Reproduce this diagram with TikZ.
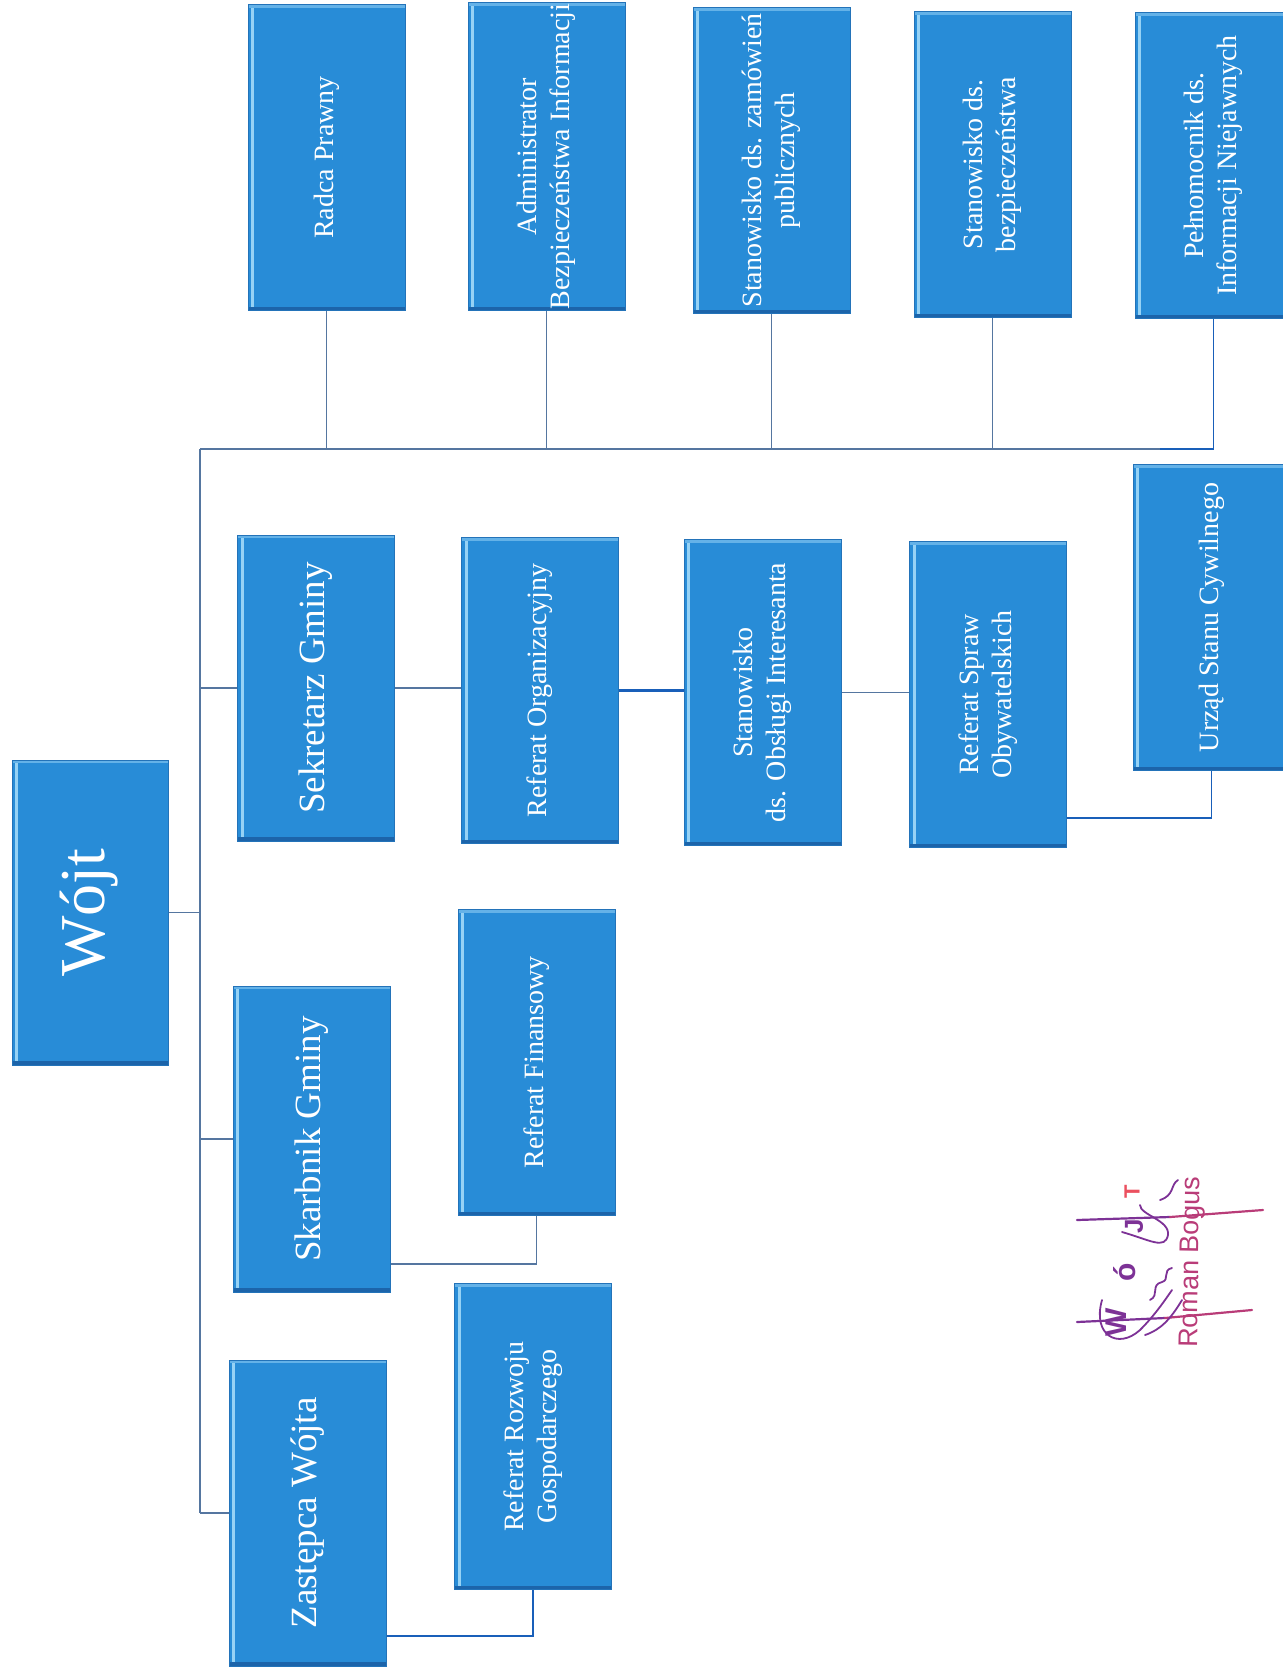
\documentclass[tikz,border=0pt]{standalone}
\usepackage{fontspec}
\usepackage{graphicx}
\setmainfont{Liberation Serif}
\newfontfamily\sigfont{Liberation Sans}
\definecolor{boxblue}{RGB}{40,140,215}
\definecolor{boxlight}{RGB}{150,210,245}
\definecolor{boxdark}{RGB}{28,100,170}
\definecolor{boxedge}{RGB}{35,115,185}
\definecolor{linegray}{RGB}{85,118,160}
\definecolor{lineblue}{RGB}{25,95,185}
\definecolor{sigpurple}{RGB}{125,50,150}
\definecolor{sigpink}{RGB}{185,60,120}
\definecolor{sigred}{RGB}{235,80,95}
\newcommand\rottext[1]{\rotatebox{90}{\begin{tabular}{@{}c@{}}#1\end{tabular}}}
\tikzset{
  orgbox/.style={draw=boxedge, line width=0.5pt, fill=boxblue, text=white,
    inner sep=0pt, minimum width=78.5pt, minimum height=153pt, align=center,
    font=\fontsize{14}{16.5}\selectfont,
    path picture={
      \fill[boxlight] ([xshift=1.5pt,yshift=-1.5pt]path picture bounding box.north west)
        rectangle ([xshift=3.2pt,yshift=1.5pt]path picture bounding box.south west);
      \fill[boxlight!55!boxblue] (path picture bounding box.north west)
        rectangle ([yshift=-1.6pt]path picture bounding box.north east);
      \fill[boxdark] (path picture bounding box.south west)
        rectangle ([yshift=2pt]path picture bounding box.south east);
    }},
  bigtext/.style={font=\fontsize{18.5}{22}\selectfont},
  conn/.style={draw=linegray, line width=0.75pt},
  connblue/.style={draw=lineblue, line width=0.9pt},
  mainbus/.style={draw=linegray, line width=1.2pt},
  sigline/.style={draw=sigpurple, line width=1.1pt, line cap=round},
}
\begin{document}
\begin{tikzpicture}[x=0.5pt, y=-0.5pt]
\useasboundingbox (0,0) rectangle (1282,1676);

% Wojt
\node[orgbox, minimum width=78pt, minimum height=152.5pt, font=\fontsize{32}{36}\selectfont] (wojt) at (90,912.5) {\rottext{Wójt}};

% top row
\node[orgbox] (radca) at (326.5,157.5) {\rottext{Radca Prawny}};
\node[orgbox, minimum height=154pt] (admin) at (546.5,156.5) {\rottext{Administrator\\Bezpieczeństwa Informacji}};
\node[orgbox] (zam) at (771.5,160.5) {\rottext{Stanowisko ds. zamówień\\publicznych}};
\node[orgbox] (bezp) at (992.5,164.5) {\rottext{Stanowisko ds.\\bezpieczeństwa}};
\node[orgbox] (peln) at (1213.5,165.5) {\rottext{Pełnomocnik ds.\\Informacji Niejawnych}};

% second row
\node[orgbox, bigtext] (sek) at (316,688) {\rottext{Sekretarz Gminy}};
\node[orgbox] (reforg) at (540,690.5) {\rottext{Referat Organizacyjny}};
\node[orgbox] (obs) at (762.5,692.5) {\rottext{Stanowisko\\ds. Obsługi Interesanta}};
\node[orgbox] (spraw) at (988,694.5) {\rottext{Referat Spraw\\Obywatelskich}};
\node[orgbox] (usc) at (1211.5,617.5) {\rottext{Urząd Stanu Cywilnego}};

% third and fourth rows
\node[orgbox, bigtext] (skarb) at (311.5,1139) {\rottext{Skarbnik Gminy}};
\node[orgbox] (reffin) at (536.5,1062.5) {\rottext{Referat Finansowy}};
\node[orgbox, bigtext] (zast) at (307.5,1513) {\rottext{Zastępca Wójta}};
\node[orgbox] (refroz) at (533,1436.5) {\rottext{Referat Rozwoju\\Gospodarczego}};

% bus
\coordinate (busTop) at (200,449);
\coordinate (busBot) at (200,1513);
\coordinate (busEnd) at (1160,449);
\draw[mainbus] (busTop) -- (busBot);
\draw[conn] (busTop) -- (busEnd);
\draw[connblue] (busEnd) -- (busEnd -| peln.south) -- (peln.south);
\draw[conn] (radca.south) -- (radca.south |- busTop);
\draw[conn] (admin.south) -- (admin.south |- busTop);
\draw[conn] (zam.south) -- (zam.south |- busTop);
\draw[conn] (bezp.south) -- (bezp.south |- busTop);

\draw[conn] (wojt.east) -- (wojt.east -| busTop);
\draw[conn] (sek.west -| busTop) -- (sek.west);
\draw[conn] (skarb.west -| busTop) -- (skarb.west);
\draw[conn] (zast.west -| busTop) -- (zast.west);

% chain
\draw[conn] (sek.east) -- (sek.east -| reforg.west);
\draw[draw=lineblue, line width=1.4pt] (reforg.east) -- (reforg.east -| obs.west);
\draw[conn] (obs.east) -- (obs.east -| spraw.west);
\coordinate (sprawOut) at (1067,818);
\draw[connblue] (sprawOut) -| (usc.south);

\coordinate (skarbOut) at (391,1264);
\draw[conn] (skarbOut) -| (reffin.south);
\coordinate (zastOut) at (387,1636);
\draw[connblue] (zastOut) -| (refroz.south);

% signature
\draw[sigline] (1077,1220) -- (1170,1217);
\draw[draw=sigpink, line width=1.1pt, line cap=round] (1170,1217) -- (1263,1210);
\draw[sigline] (1077,1322) -- (1165,1318);
\draw[draw=sigpink, line width=1.1pt, line cap=round] (1165,1318) -- (1252,1310);
\node[text=sigpink, font=\sigfont\fontsize{13.5}{15}\selectfont, rotate=89, inner sep=0pt] (signame) at (1192,1262) {Roman Bogus};
\node[text=sigpurple, font=\sigfont\bfseries\fontsize{15}{16}\selectfont, rotate=90, inner sep=0pt] (sigw) at (1116,1322) {W};
\node[text=sigpurple, font=\sigfont\bfseries\fontsize{15}{16}\selectfont, rotate=90, inner sep=0pt] (sigo) at (1125,1272) {ó};
\node[text=sigpurple, font=\sigfont\bfseries\fontsize{13}{14}\selectfont, rotate=90, inner sep=0pt] (sigj) at (1134,1226) {J};
\node[text=sigred, font=\sigfont\bfseries\fontsize{11}{12}\selectfont, rotate=90, inner sep=0pt] (sigt) at (1132,1192) {T};
\draw[sigline, line width=0.9pt] (1102,1300) .. controls (1092,1335) and (1118,1350) .. (1140,1330)
  .. controls (1155,1315) and (1165,1300) .. (1172,1290);
\draw[sigline, line width=0.9pt] (1145,1335) .. controls (1160,1330) and (1170,1320) .. (1182,1300);
\draw[sigline, line width=0.9pt] (1150,1300) .. controls (1160,1295) and (1150,1285) .. (1162,1282)
  .. controls (1170,1280) and (1162,1270) .. (1172,1268);
\draw[sigline, line width=0.9pt] (1122,1232) .. controls (1150,1240) and (1165,1250) .. (1168,1235)
  .. controls (1170,1220) and (1140,1215) .. (1140,1205);
\draw[sigline, line width=0.9pt] (1160,1200) .. controls (1175,1195) and (1170,1185) .. (1178,1180);
\end{tikzpicture}
\end{document}
